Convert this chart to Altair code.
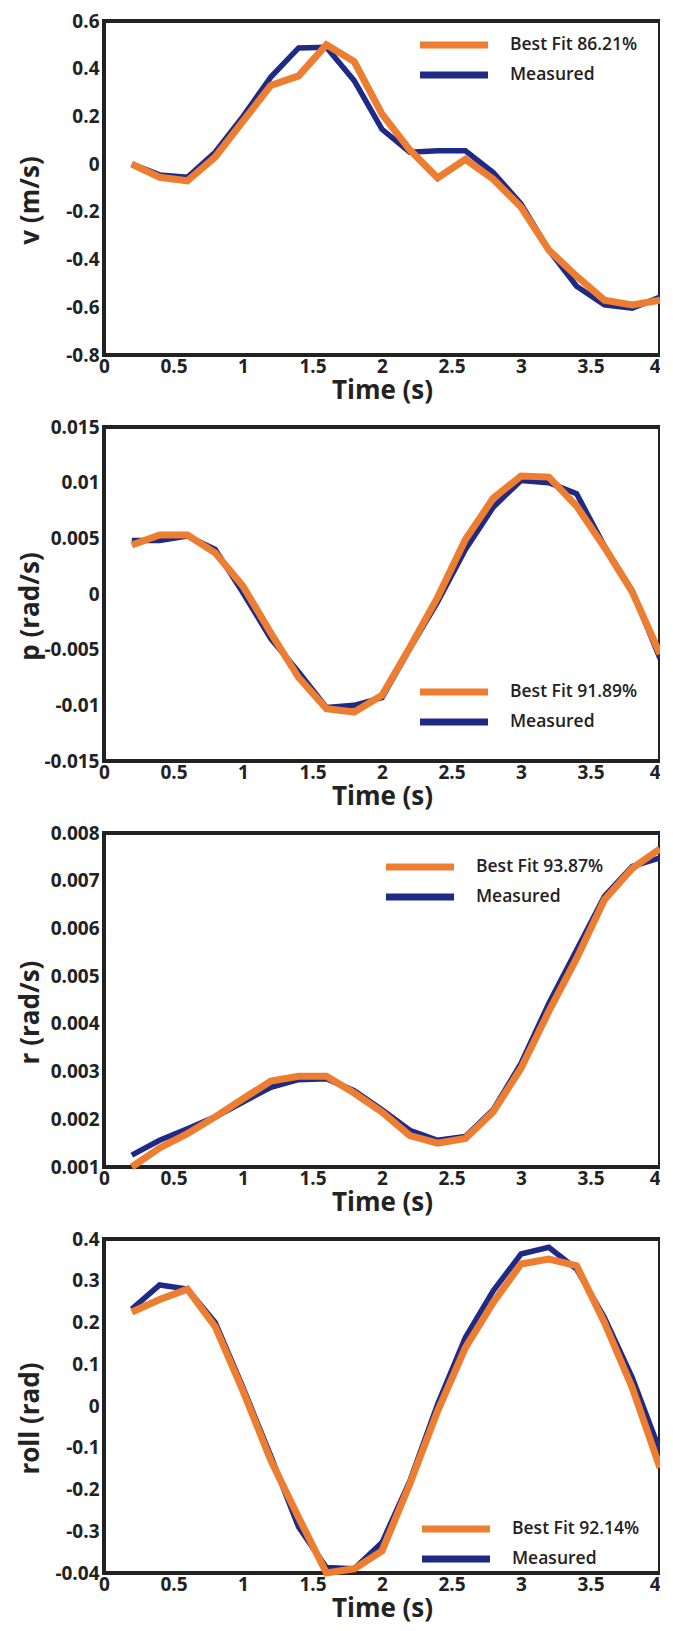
import altair as alt
import pandas as pd

# ---------------- data ----------------
time_s = [0.2, 0.4, 0.6, 0.8, 1.0, 1.2, 1.4, 1.6, 1.8, 2.0,
          2.2, 2.4, 2.6, 2.8, 3.0, 3.2, 3.4, 3.6, 3.8, 4.0]

v_fit = [0.0, -0.055, -0.07, 0.03, 0.18, 0.33, 0.37, 0.50, 0.43, 0.21,
         0.06, -0.058, 0.02, -0.063, -0.18, -0.36, -0.47, -0.57, -0.59, -0.57]
v_meas = [0.0, -0.045, -0.055, 0.05, 0.20, 0.365, 0.487, 0.49, 0.35, 0.146,
          0.05, 0.056, 0.056, -0.035, -0.167, -0.36, -0.512, -0.59, -0.604, -0.557]

p_fit = [0.0044, 0.0053, 0.0053, 0.0037, 0.0007, -0.0035, -0.0075, -0.0103, -0.0106, -0.0091,
         -0.0048, -0.0003, 0.0049, 0.0086, 0.0106, 0.0105, 0.0079, 0.0042, 0.0002, -0.0054]
p_meas = [0.0048, 0.0048, 0.0052, 0.0040, 0.0001, -0.0040, -0.0070, -0.0102, -0.0100, -0.0093,
          -0.0049, -0.0007, 0.0040, 0.0078, 0.0102, 0.0100, 0.0090, 0.0043, 0.0003, -0.0058]

r_fit = [0.0010, 0.0014, 0.0017, 0.00205, 0.00243, 0.0028, 0.0029, 0.0029, 0.00255, 0.00215,
         0.00166, 0.0015, 0.0016, 0.00216, 0.00307, 0.00426, 0.00537, 0.0066, 0.00726, 0.00767]
r_meas = [0.00125, 0.00156, 0.0018, 0.00205, 0.00236, 0.00267, 0.00283, 0.00285, 0.0026, 0.0022,
          0.00177, 0.00156, 0.00164, 0.0022, 0.00317, 0.00443, 0.00555, 0.00667, 0.0073, 0.00748]

roll_fit = [0.225, 0.255, 0.28, 0.19, 0.036, -0.13, -0.267, -0.40, -0.39, -0.347,
            -0.187, -0.012, 0.14, 0.248, 0.34, 0.352, 0.336, 0.20, 0.044, -0.148]
roll_meas = [0.232, 0.29, 0.28, 0.20, 0.044, -0.12, -0.29, -0.387, -0.39, -0.327,
             -0.18, 0.004, 0.164, 0.276, 0.364, 0.38, 0.328, 0.212, 0.068, -0.108]

y_titles = ["v (m/s)", "p (rad/s)", "r (rad/s)", "roll (rad)"]
fit_labels = ["Best Fit 86.21%", "Best Fit 91.89%", "Best Fit 93.87%", "Best Fit 92.14%"]
measured_label = "Measured"
x_ticks = [0, 0.5, 1, 1.5, 2, 2.5, 3, 3.5, 4]
y_ticks = [
    [-0.8, -0.6, -0.4, -0.2, 0, 0.2, 0.4, 0.6],
    [-0.015, -0.01, -0.005, 0, 0.005, 0.01, 0.015],
    [0.001, 0.002, 0.003, 0.004, 0.005, 0.006, 0.007, 0.008],
    [-0.4, -0.3, -0.2, -0.1, 0, 0.1, 0.2, 0.3, 0.4],
]
# the last panel's bottom tick is printed as "-0.04" in the original figure
y_label_exprs = [
    "'' + datum.value",
    "'' + datum.value",
    "'' + datum.value",
    "datum.value == -0.4 ? '-0.04' : '' + datum.value",
]
fits = [v_fit, p_fit, r_fit, roll_fit]
meas = [v_meas, p_meas, r_meas, roll_meas]

# ---------------- styles ----------------
ORANGE = "#ED7D31"
NAVY = "#1F2A86"
FONT = "Open Sans"
TEXT = "#222222"
W, H = 556, 334
legend_pos = [(340, 14), (340, 255), (306, 24), (342, 280)]

panels = []
for i in range(4):
    df = pd.DataFrame({
        "t": time_s + time_s,
        "val": fits[i] + meas[i],
        "series": [fit_labels[i]] * len(time_s) + [measured_label] * len(time_s),
    })
    lx, ly = legend_pos[i]
    color = alt.Color(
        "series:N",
        scale=alt.Scale(domain=[fit_labels[i], measured_label], range=[ORANGE, NAVY]),
        legend=alt.Legend(
            title=None, orient="none", legendX=lx, legendY=ly, direction="vertical",
            symbolType="M-5.23,0H5.23", symbolSize=169, symbolStrokeWidth=7,
            labelFont=FONT, labelFontSize=17.5, labelFontWeight=600, labelColor=TEXT,
            labelOffset=46, rowPadding=2, padding=0,
        ),
    )
    base = alt.Chart(df).encode(
        x=alt.X("t:Q", scale=alt.Scale(domain=[0, 4], nice=False),
                axis=alt.Axis(values=x_ticks, labelExpr="'' + datum.value", title="Time (s)",
                              grid=False, domain=False, ticks=False, labelFlush=False,
                              labelAlign={"condition": {"test": "datum.value == 4", "value": "right"},
                                          "value": "center"},
                              labelFont=FONT, labelFontSize=19, labelFontWeight="bold",
                              labelColor=TEXT, labelPadding=2,
                              titleFont=FONT, titleFontSize=26, titleFontWeight="bold",
                              titleColor=TEXT, titleY=43, titleBaseline="alphabetic")),
        y=alt.Y("val:Q", scale=alt.Scale(domain=[y_ticks[i][0], y_ticks[i][-1]], nice=False, zero=False),
                axis=alt.Axis(values=y_ticks[i], labelExpr=y_label_exprs[i], title=y_titles[i],
                              grid=False, domain=False, ticks=False, labelFlush=False,
                              labelFont=FONT, labelFontSize=19, labelFontWeight="bold",
                              labelColor=TEXT, labelPadding=5,
                              titleFont=FONT, titleFontSize=26, titleFontWeight="bold",
                              titleColor=TEXT, titleAngle=270, titleX=-74, titleY=H / 2 + 12,
                              titleAlign="center", titleBaseline="middle")),
        color=color,
    )
    m_line = base.transform_filter(alt.datum.series == measured_label).mark_line(strokeWidth=5.5)
    f_line = base.transform_filter(alt.datum.series == fit_labels[i]).mark_line(strokeWidth=7)
    panels.append(alt.layer(m_line, f_line).properties(width=W, height=H))

chart = alt.vconcat(*panels, spacing=72, bounds="flush").resolve_scale(
    x="independent", y="independent", color="independent"
).properties(
    padding={"left": 7, "top": 2, "right": -16, "bottom": 0},
    background="white",
).configure_view(
    stroke="#222222", strokeWidth=4
)

chart.save("out.html", embed_options={"renderer": "svg", "actions": False})
